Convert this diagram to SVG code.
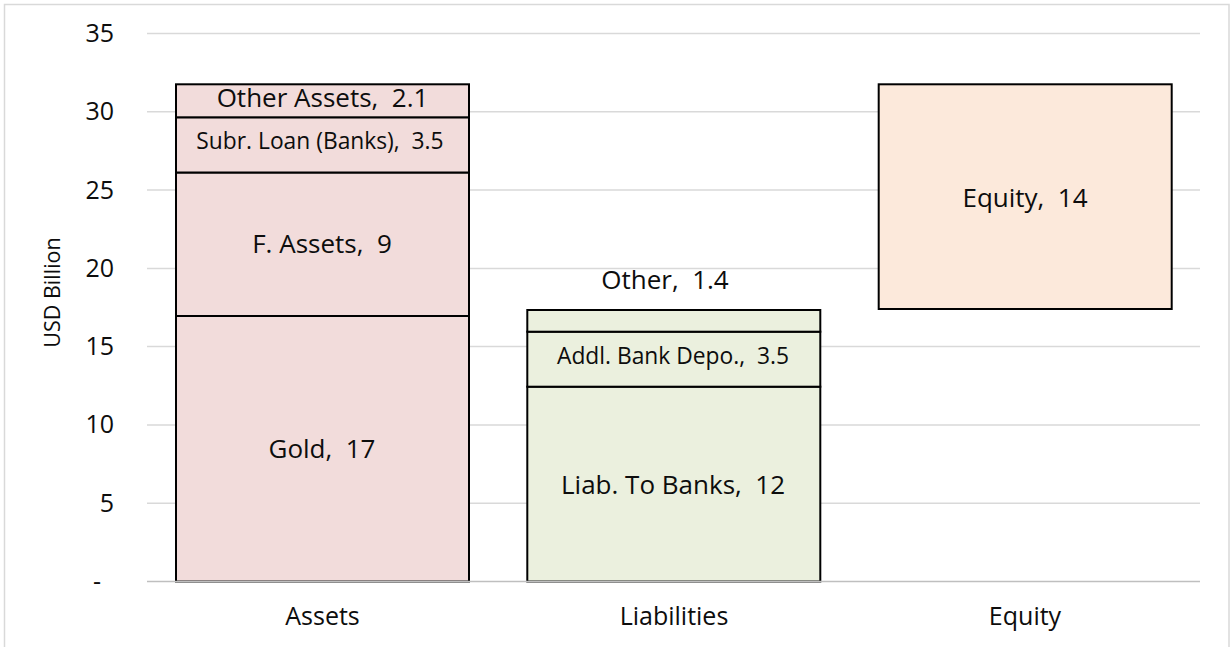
<svg xmlns="http://www.w3.org/2000/svg" width="1232" height="647" viewBox="0 0 1232 647" xml:space="preserve">
  <style>
    text { font-family: "Open Sans", Lato, "Liberation Sans", sans-serif; font-weight: 370; fill: #0d0d0d; white-space: pre; }
    .grid { stroke: #d9d9d9; stroke-width: 1.5; }
    .tick { font-size: 25px; text-anchor: end; }
    .cat { font-size: 25px; text-anchor: middle; }
    .lbl { font-size: 26px; text-anchor: middle; }
    .lbl-s { font-size: 22.8px; text-anchor: middle; }
    .seg { stroke: #000; stroke-width: 2; }
    .assets { fill: #f2dcdb; }
    .liab { fill: #ebf0de; }
    .equity { fill: #fce9db; }
  </style>

  <!-- chart frame -->
  <rect x="0" y="0" width="1232" height="647" fill="#fff"/>
  <rect x="4.5" y="4.5" width="1224.5" height="650" fill="none" stroke="#d9d9d9" stroke-width="1.5"/>

  <!-- value axis: gridlines and labels (0 to 35, step 5) -->
  <g id="value-axis">
    <line class="grid" x1="147" y1="33.5" x2="1200" y2="33.5"/>
    <line class="grid" x1="147" y1="111.8" x2="1200" y2="111.8"/>
    <line class="grid" x1="147" y1="190.1" x2="1200" y2="190.1"/>
    <line class="grid" x1="147" y1="268.4" x2="1200" y2="268.4"/>
    <line class="grid" x1="147" y1="346.6" x2="1200" y2="346.6"/>
    <line class="grid" x1="147" y1="424.9" x2="1200" y2="424.9"/>
    <line class="grid" x1="147" y1="503.2" x2="1200" y2="503.2"/>
    <text class="tick" x="114" y="42">35</text>
    <text class="tick" x="114" y="120.3">30</text>
    <text class="tick" x="114" y="198.6">25</text>
    <text class="tick" x="114" y="276.9">20</text>
    <text class="tick" x="114" y="355.1">15</text>
    <text class="tick" x="114" y="433.4">10</text>
    <text class="tick" x="114" y="511.7">5</text>
    <text class="tick" x="101" y="590">-</text>
    <text x="60" y="292.5" font-size="21.5" text-anchor="middle" transform="rotate(-90 60 292.5)">USD Billion</text>
  </g>

  <!-- Assets column -->
  <g id="assets-gold">
    <rect class="seg assets" x="176" y="316" width="293" height="265.5"/>
    <text class="lbl" x="322" y="458.3">Gold,  17</text>
  </g>
  <g id="assets-f-assets">
    <rect class="seg assets" x="176" y="172.5" width="293" height="143.5"/>
    <text class="lbl" x="322" y="253.3">F. Assets,  9</text>
  </g>
  <g id="assets-subr-loan">
    <rect class="seg assets" x="176" y="117.3" width="293" height="55.2"/>
    <text class="lbl-s" x="320" y="149.3">Subr. Loan (Banks),  3.5</text>
  </g>
  <g id="assets-other">
    <rect class="seg assets" x="176" y="84.3" width="293" height="33"/>
    <text class="lbl" x="322.5" y="106.7">Other Assets,  2.1</text>
  </g>

  <!-- Liabilities column -->
  <g id="liab-banks">
    <rect class="seg liab" x="527.3" y="386.7" width="293" height="194.8"/>
    <text class="lbl" x="673" y="494.3">Liab. To Banks,  12</text>
  </g>
  <g id="liab-addl-depo">
    <rect class="seg liab" x="527.3" y="331.7" width="293" height="55"/>
    <text class="lbl-s" x="673" y="364">Addl. Bank Depo.,  3.5</text>
  </g>
  <g id="liab-other">
    <rect class="seg liab" x="527.3" y="310" width="293" height="21.7"/>
    <text class="lbl" x="665" y="289.3">Other,  1.4</text>
  </g>

  <!-- Equity column -->
  <g id="equity">
    <rect class="seg equity" x="878.7" y="84.3" width="293" height="224.7"/>
    <text class="lbl" x="1025" y="206.7">Equity,  14</text>
  </g>

  <!-- category axis -->
  <g id="category-axis">
    <line x1="147" y1="581.5" x2="1200" y2="581.5" stroke="#bfbfbf" stroke-width="1.5"/>
    <text class="cat" x="322.5" y="625">Assets</text>
    <text class="cat" x="674" y="625">Liabilities</text>
    <text class="cat" x="1025" y="625">Equity</text>
  </g>
</svg>
